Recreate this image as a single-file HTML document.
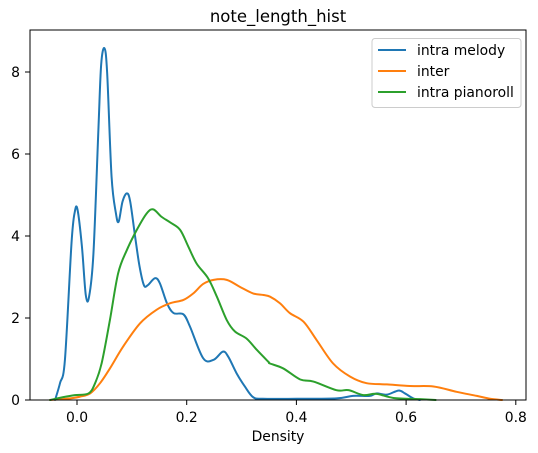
<!DOCTYPE html>
<html><head><meta charset="utf-8"><style>
html,body{margin:0;padding:0;background:#fff;}
svg{display:block;font-family:"DejaVu Sans","Liberation Sans",sans-serif;}
</style></head><body>
<svg id="chart" width="538" height="453" viewBox="0 0 538 453" xmlns="http://www.w3.org/2000/svg">
<rect width="538" height="453" fill="#fff"/>
<text x="278" y="22" font-size="16.5" text-anchor="middle" fill="#000">note_length_hist</text>
<g id="curves"></g>
<g id="axes"></g>
<rect x="30" y="30" width="496" height="370" fill="none" stroke="#000" stroke-width="1"/>
<text x="278" y="441" font-size="13.9" text-anchor="middle" fill="#000">Density</text>
<g>
<rect x="372" y="38.5" width="149" height="69" rx="3" fill="#fff" fill-opacity="0.8" stroke="#ccc" stroke-width="1"/>
<g><line x1="378" y1="50" x2="406" y2="50" stroke="#1f77b4" stroke-width="2"/><text x="417" y="55" font-size="13.9" fill="#000">intra melody</text></g>
<g><line x1="378" y1="71" x2="406" y2="71" stroke="#ff7f0e" stroke-width="2"/><text x="417" y="76" font-size="13.9" fill="#000">inter</text></g>
<g><line x1="378" y1="92" x2="406" y2="92" stroke="#2ca02c" stroke-width="2"/><text x="417" y="97" font-size="13.9" fill="#000">intra pianoroll</text></g>
</g>
</svg>
<script>
const xTicks=[0.0,0.2,0.4,0.6,0.8];
const xTickLabels=["0.0","0.2","0.4","0.6","0.8"];
const yTicks=[0,2,4,6,8];
const yTickLabels=["0","2","4","6","8"];
const melodyX=[-0.040,-0.031,-0.022,-0.010,-0.004,0.001,0.009,0.016,0.022,0.030,0.039,0.044,0.050,0.055,0.063,0.071,0.076,0.083,0.091,0.097,0.106,0.114,0.122,0.129,0.142,0.151,0.164,0.176,0.194,0.206,0.230,0.249,0.266,0.276,0.291,0.306,0.321,0.339,0.40,0.473,0.503,0.534,0.546,0.565,0.586,0.598,0.613,0.625];
const melodyY=[0,0.41,0.98,3.83,4.59,4.64,3.74,2.56,2.52,3.58,6.59,8.17,8.58,7.97,5.45,4.55,4.35,4.84,5.04,4.84,3.98,3.26,2.80,2.80,2.97,2.85,2.36,2.12,2.09,1.79,1.02,0.98,1.18,1.05,0.65,0.33,0.07,0.03,0.03,0.04,0.10,0.10,0.16,0.13,0.23,0.16,0.04,0];
const interX=[-0.049,-0.019,0.005,0.024,0.042,0.060,0.084,0.115,0.145,0.170,0.194,0.212,0.230,0.249,0.273,0.297,0.321,0.340,0.352,0.370,0.388,0.413,0.437,0.467,0.498,0.528,0.565,0.607,0.650,0.692,0.729,0.753,0.775];
const interY=[0,0.03,0.08,0.16,0.41,0.77,1.30,1.87,2.20,2.36,2.44,2.60,2.83,2.93,2.93,2.76,2.60,2.56,2.52,2.36,2.12,1.91,1.46,0.89,0.57,0.41,0.38,0.34,0.33,0.20,0.10,0.03,0];
const pianoX=[-0.049,-0.025,-0.004,0.021,0.033,0.045,0.060,0.075,0.091,0.109,0.127,0.139,0.154,0.170,0.188,0.203,0.218,0.239,0.255,0.273,0.288,0.309,0.328,0.349,0.352,0.376,0.407,0.431,0.473,0.495,0.522,0.546,0.577,0.625,0.654];
const pianoY=[0,0.07,0.12,0.16,0.41,0.90,1.95,3.09,3.66,4.15,4.55,4.65,4.47,4.33,4.15,3.74,3.33,2.97,2.52,1.95,1.67,1.50,1.22,0.93,0.89,0.77,0.50,0.45,0.24,0.24,0.12,0.15,0.05,0.02,0];
const NS="http://www.w3.org/2000/svg";
function sx(v){return 77+v*548.5;}
function sy(v){return 400-v*41;}
const curves=document.getElementById('curves');
function smoothPath(xs,ys){
  const P=xs.map((x,i)=>[sx(x),sy(ys[i])]);
  let d='M'+P[0][0].toFixed(2)+','+P[0][1].toFixed(2);
  for(let i=0;i<P.length-1;i++){
    const p0=P[i>0?i-1:i],p1=P[i],p2=P[i+1],p3=P[i+2<P.length?i+2:i+1];
    const k=1/6;
    const c1=[p1[0]+(p2[0]-p0[0])*k,p1[1]+(p2[1]-p0[1])*k];
    const c2=[p2[0]-(p3[0]-p1[0])*k,p2[1]-(p3[1]-p1[1])*k];
    d+=' C'+c1[0].toFixed(2)+','+c1[1].toFixed(2)+' '+c2[0].toFixed(2)+','+c2[1].toFixed(2)+' '+p2[0].toFixed(2)+','+p2[1].toFixed(2);
  }
  return d;
}
function drawLine(xs,ys,color,name){
  const p=document.createElementNS(NS,'path');
  p.setAttribute('d',smoothPath(xs,ys));
  p.setAttribute('fill','none');p.setAttribute('stroke',color);p.setAttribute('stroke-width','2');
  p.setAttribute('stroke-linejoin','round');p.setAttribute('stroke-linecap','round');
  
  
  curves.appendChild(p);
}
drawLine(melodyX,melodyY,'#1f77b4','intra-melody-line');
drawLine(interX,interY,'#ff7f0e','inter-line');
drawLine(pianoX,pianoY,'#2ca02c','intra-pianoroll-line');
const axes=document.getElementById('axes');
xTicks.forEach((t,i)=>{
  const x=sx(t);
  const l=document.createElementNS(NS,'line');
  l.setAttribute('x1',x);l.setAttribute('x2',x);l.setAttribute('y1',400);l.setAttribute('y2',405);l.setAttribute('stroke','#000');
  
  
  axes.appendChild(l);
  const tx=document.createElementNS(NS,'text');
  tx.setAttribute('x',x);tx.setAttribute('y',422);tx.setAttribute('font-size','13.9');tx.setAttribute('text-anchor','middle');
  tx.textContent=xTickLabels[i];
  
  
  axes.appendChild(tx);
});
yTicks.forEach((t,i)=>{
  const y=sy(t);
  const l=document.createElementNS(NS,'line');
  l.setAttribute('x1',25);l.setAttribute('x2',30);l.setAttribute('y1',y);l.setAttribute('y2',y);l.setAttribute('stroke','#000');
  
  
  axes.appendChild(l);
  const tx=document.createElementNS(NS,'text');
  tx.setAttribute('x',20);tx.setAttribute('y',y+5);tx.setAttribute('font-size','13.9');tx.setAttribute('text-anchor','end');
  tx.textContent=yTickLabels[i];
  
  
  axes.appendChild(tx);
});
</script>
</body></html>
